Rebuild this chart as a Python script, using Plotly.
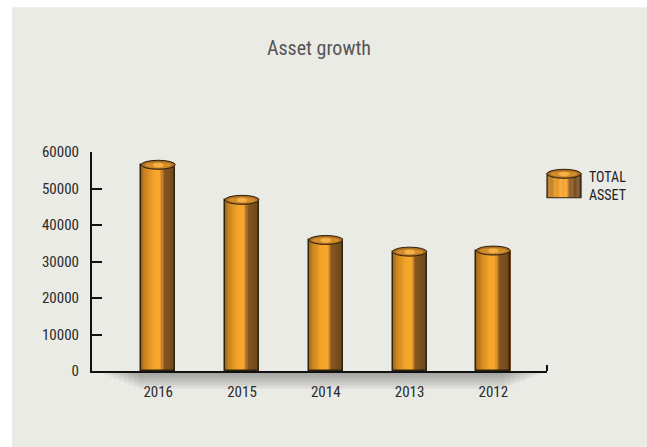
import plotly.graph_objects as go

# Data
years = ["2016", "2015", "2014", "2013", "2012"]
total_asset = [56500, 46900, 35900, 32700, 33000]
y_ticks = [0, 10000, 20000, 30000, 40000, 50000, 60000]
series_name = "TOTAL<br>ASSET"
title_text = "Asset growth"

FONT = "Roboto Condensed, DejaVu Sans Condensed, sans-serif"
BG = "#ebebe6"
OUTLINE = "#2e2210"
TEXT = "#2a2a2a"

# horizontal shading across a cylinder (left -> right)
STOPS = [
    (0.00, "#9a6118"),
    (0.12, "#c8821f"),
    (0.38, "#f4a32a"),
    (0.55, "#f9a82c"),
    (0.62, "#c9852a"),
    (0.69, "#85561f"),
    (1.00, "#6c471c"),
]


def hex_rgb(h):
    h = h.lstrip("#")
    return tuple(int(h[i:i + 2], 16) for i in (0, 2, 4))


def shade(t):
    for (t0, c0), (t1, c1) in zip(STOPS[:-1], STOPS[1:]):
        if t0 <= t <= t1:
            f = (t - t0) / (t1 - t0) if t1 > t0 else 0
            a, b = hex_rgb(c0), hex_rgb(c1)
            return "rgb(%d,%d,%d)" % tuple(round(a[i] + (b[i] - a[i]) * f) for i in range(3))
    return STOPS[-1][1]


N = 28
BAR_W = 0.406

fig = go.Figure()

# cylinder bodies built from thin vertical stripes
for k in range(N):
    t = (k + 0.5) / N
    fig.add_trace(go.Bar(
        x=years, y=total_asset,
        width=BAR_W / N * 1.15,
        offset=-BAR_W / 2 + k * BAR_W / N,
        marker=dict(color=shade(t), line=dict(width=0)),
        showlegend=False, hoverinfo="skip",
    ))

# outline of each cylinder body
fig.add_trace(go.Bar(
    x=years, y=total_asset,
    width=BAR_W, offset=-BAR_W / 2,
    marker=dict(color="rgba(0,0,0,0)", line=dict(color=OUTLINE, width=1.5)),
    showlegend=False,
    hovertemplate="%{x}: %{y}<extra>TOTAL ASSET</extra>",
))

shapes = []

# background panel
shapes.append(dict(type="rect", xref="paper", yref="paper",
                   x0=-0.1758, x1=1.25, y0=-0.40, y1=1.6607,
                   fillcolor=BG, line=dict(width=0), layer="below"))

# soft shadow under the baseline
for k in range(9):
    shapes.append(dict(type="rect", xref="paper", yref="paper",
                       x0=0.015 + 0.011 * k, x1=0.995 - 0.011 * k,
                       ysizemode="pixel", yanchor=0, y0=-2.0 * (k + 1), y1=0,
                       fillcolor="rgba(60,60,60,0.06)", line=dict(width=0),
                       layer="below"))

# small end tick on the category axis
shapes.append(dict(type="line", xref="paper", yref="paper",
                   x0=1, x1=1, ysizemode="pixel", yanchor=0, y0=0, y1=6,
                   line=dict(color="#111", width=2)))


def cylinder_top(xc, yc, xref, yref, half_w):
    out = []
    out.append(dict(type="circle", xref=xref, yref=yref,
                    x0=xc - half_w, x1=xc + half_w,
                    ysizemode="pixel", yanchor=yc, y0=-4.5, y1=4.5,
                    fillcolor="#a96c22", line=dict(color=OUTLINE, width=1)))
    out.append(dict(type="circle", xref=xref, yref=yref,
                    x0=xc - half_w * 0.8, x1=xc + half_w * 0.8,
                    ysizemode="pixel", yanchor=yc, y0=-3.2, y1=2.6,
                    fillcolor="#d38d2a", line=dict(width=0)))
    out.append(dict(type="circle", xref=xref, yref=yref,
                    x0=xc - half_w * 0.3, x1=xc + half_w * 0.3,
                    ysizemode="pixel", yanchor=yc, y0=-2.6, y1=2.0,
                    fillcolor="#f5b048", line=dict(width=0)))
    return out


# cylinder tops sit on each bar's value
for i, v in enumerate(total_asset):
    shapes += cylinder_top(i, v, "x", "y", BAR_W / 2)

# legend swatch: a short cylinder
LX0, LX1 = 1.0, 1.0747
LY0, LY1 = 0.791, 0.9006
for k in range(N):
    t = (k + 0.5) / N
    shapes.append(dict(type="rect", xref="paper", yref="paper",
                       x0=LX0 + (LX1 - LX0) * k / N,
                       x1=LX0 + (LX1 - LX0) * (k + 1.15) / N,
                       y0=LY0, y1=LY1, fillcolor=shade(t), line=dict(width=0)))
shapes.append(dict(type="rect", xref="paper", yref="paper",
                   x0=LX0, x1=LX1, y0=LY0, y1=LY1,
                   fillcolor="rgba(0,0,0,0)", line=dict(color=OUTLINE, width=1.2)))
shapes += cylinder_top((LX0 + LX1) / 2, LY1, "paper", "paper", (LX1 - LX0) / 2)

fig.update_layout(
    width=647, height=447,
    margin=dict(l=92, r=100, t=152, b=76, pad=0),
    paper_bgcolor="white",
    plot_bgcolor="rgba(0,0,0,0)",
    barmode="overlay",
    bargap=0,
    showlegend=False,
    font=dict(family=FONT, size=15, color=TEXT),
    title=dict(text=title_text, x=0.493, xanchor="center",
               y=0.893, yanchor="middle", yref="container",
               font=dict(family=FONT, size=20, color="#555555")),
    xaxis=dict(type="category", categoryorder="array", categoryarray=years,
               range=[-0.79, 4.64], showline=True, linecolor="#111",
               linewidth=2, ticks="", showgrid=False, zeroline=False,
               ticklabelstandoff=6,
               tickfont=dict(family=FONT, size=15, color=TEXT)),
    yaxis=dict(range=[0, 60000], tickvals=y_ticks,
               ticktext=[str(v) for v in y_ticks],
               showline=True, linecolor="#111", linewidth=2,
               ticks="inside", ticklen=10, tickwidth=2, tickcolor="#111",
               showgrid=False, zeroline=False, ticklabelstandoff=8,
               tickfont=dict(family=FONT, size=15, color=TEXT)),
    shapes=shapes,
    annotations=[dict(text=series_name, xref="paper", yref="paper",
                      x=1.088, y=0.845, xanchor="left", yanchor="middle",
                      showarrow=False, align="left",
                      font=dict(family=FONT, size=14, color="#222222"))],
)

fig.write_html("out.html")
